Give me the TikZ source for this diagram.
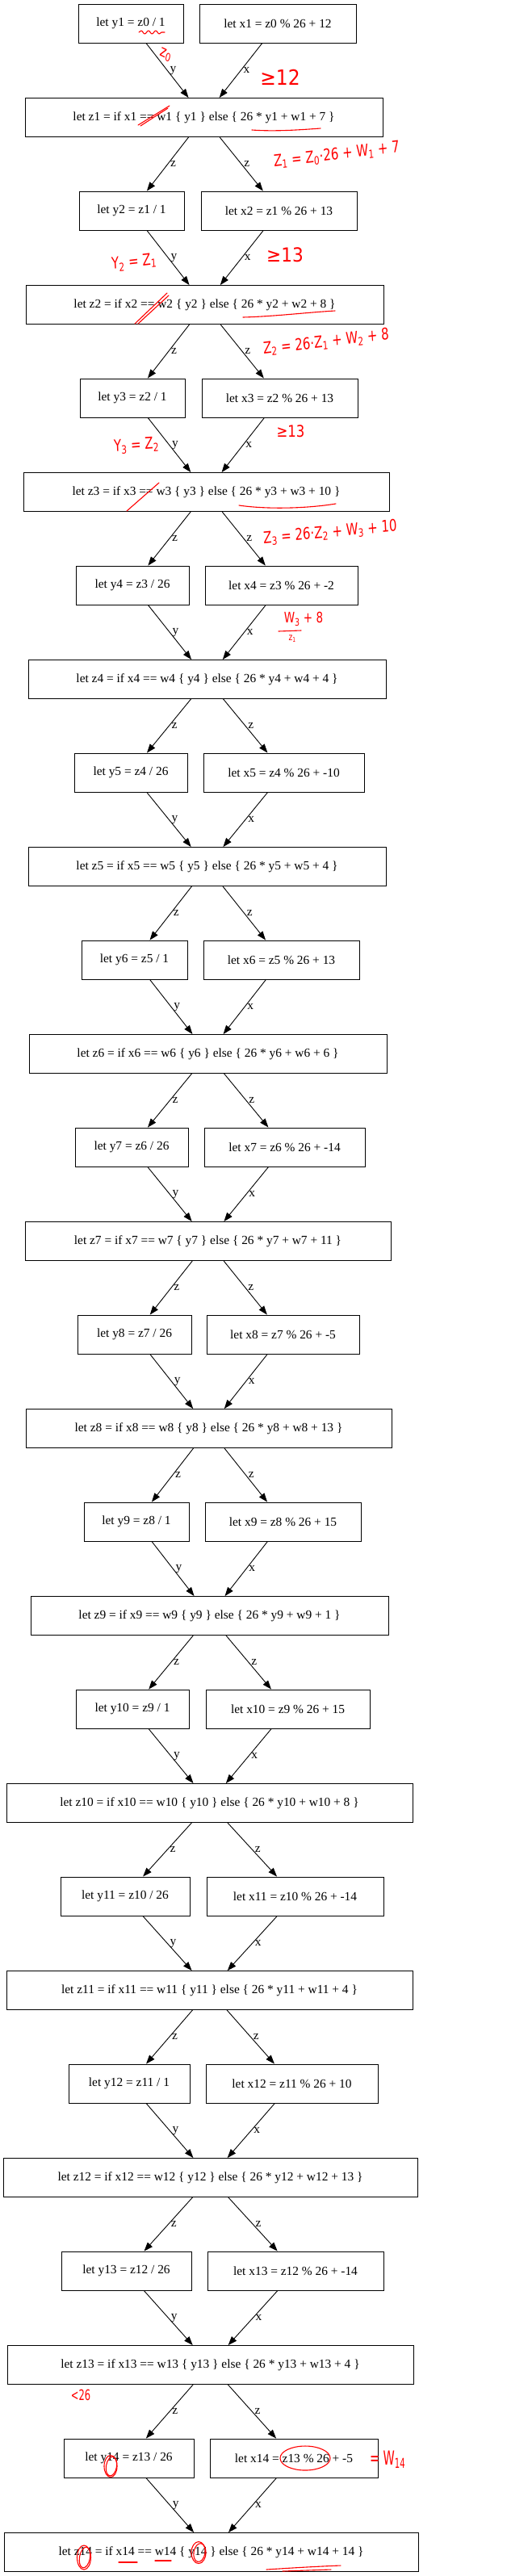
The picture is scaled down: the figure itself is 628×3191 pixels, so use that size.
\documentclass[tikz,border=0pt]{standalone}
\usepackage{fontspec}
\setmainfont{Liberation Serif}
\newfontfamily\handfont{DejaVu Sans}
\usetikzlibrary{arrows.meta, decorations.pathmorphing}
\newcommand{\hf}[1]{\handfont\fontsize{#1}{#1}\selectfont}

\begin{document}
\begin{tikzpicture}[x=1pt, y=1pt,
    box/.style={draw, line width=0.9pt, minimum height=48pt, inner sep=0pt, font=\fontsize{15.4}{18}\selectfont},
    arr/.style={line width=0.9pt, -{Triangle[length=11pt, width=8pt]}},
    lbl/.style={right, inner sep=3pt, font=\fontsize{15.4}{18}\selectfont},
    ink/.style={red, line width=1.1pt, line cap=round, line join=round},
    inktext/.style={red, inner sep=0pt, xscale=0.75, font=\hf{20}}]

    % Hintergrund
    \path[fill=white] (0,0) rectangle (628,-3191);

    % Stufen: y, x und z
    \foreach \i/\yl/\yr/\xl/\xr/\zl/\zr/\dv/\off/\cst in {
        1/97/227/247/441/31/474/1/12/7,
        2/98/228/249/442/32/475/1/13/8,
        3/99/229/250/443/29/482/1/13/10,
        4/94/234/254/443/35/478/26/-2/4,
        5/92/232/252/451/35/478/26/-10/4,
        6/101/232/252/445/36/479/1/13/6,
        7/93/233/253/452/31/484/26/-14/11,
        8/96/237/256/445/32/485/26/-5/13,
        9/104/234/254/447/38/481/1/15/1,
        10/94/234/255/458/8/511/1/15/8,
        11/75/235/256/475/8/511/26/-14/4,
        12/85/235/255/468/4/517/1/10/13,
        13/76/237/257/475/9/512/26/-14/4,
        14/79/240/260/468/5/518/26/-5/14} {
        \pgfmathtruncatemacro\prev{\i-1}
        \pgfmathsetmacro\ty{-(29+232*(\i-1))}
        \pgfmathsetmacro\tz{-(145.5+232*(\i-1))}
        \pgfmathsetmacro\yw{\yr-\yl}
        \pgfmathsetmacro\xw{\xr-\xl}
        \pgfmathsetmacro\zw{\zr-\zl}
        \node[box, minimum width=\yw pt] (y\i) at ({(\yl+\yr)/2}, \ty) {let y\i{} = z\prev{} / \dv};
        \node[box, minimum width=\xw pt] (x\i) at ({(\xl+\xr)/2}, \ty) {let x\i{} = z\prev{} \% 26 + \off};
        \node[box, minimum width=\zw pt] (z\i) at ({(\zl+\zr)/2}, \tz)
            {let z\i{} = if x\i{} == w\i{} \{ y\i{} \} else \{ 26 * y\i{} + w\i{} + \cst{} \}};
        \draw[arr] (y\i) -- node[lbl] {y} (z\i);
        \draw[arr] (x\i) -- node[lbl] {x} (z\i);
        \ifnum\i>1
            \draw[arr] (z\prev) -- node[lbl] {z} (y\i);
            \draw[arr] (z\prev) -- node[lbl] {z} (x\i);
        \fi
    }

    % Notizen Stufe 1
    \draw[ink, decorate, decoration={snake, amplitude=2pt, segment length=9pt}] (172,-40) -- (204,-40);
    \node[inktext, rotate=-20] (n0) at (205,-68) {z\textsubscript{0}};
    \node[inktext, font=\hf{26}, xscale=1.2] (n1) at (347,-96) {≥12};
    \draw[ink] (171,-155) -- (210,-131);
    \draw[ink] (174,-156) -- (208,-134);
    \draw[ink] (312,-161) .. controls (340,-163) and (370,-161) .. (397,-159);
    \node[inktext, rotate=5] (n2) at (417,-192)
        {Z\textsubscript{1} = Z\textsubscript{0}·26 + W\textsubscript{1} + 7};

    % Notizen Stufe 2
    \node[inktext, rotate=5] (n3) at (166,-325) {Y\textsubscript{2} = Z\textsubscript{1}};
    \node[inktext, font=\hf{24}, xscale=1.2] (n4) at (353,-316) {≥13};
    \draw[ink] (167,-401) -- (207,-363);
    \draw[ink] (171,-401) -- (209,-366);
    \draw[ink] (301,-393) .. controls (340,-392) and (380,-387) .. (415,-385);
    \node[inktext, rotate=5] (n5) at (404,-424)
        {Z\textsubscript{2} = 26·Z\textsubscript{1} + W\textsubscript{2} + 8};

    % Notizen Stufe 3
    \node[inktext, rotate=3] (n6) at (169,-552) {Y\textsubscript{3} = Z\textsubscript{2}};
    \node[inktext, font=\hf{20}, xscale=1.1] (n7) at (360,-534) {≥13};
    \draw[ink] (157,-633) -- (197,-598);
    \draw[ink] (296,-626) .. controls (330,-631) and (380,-630) .. (416,-624);
    \node[inktext, rotate=4] (n8) at (409,-660)
        {Z\textsubscript{3} = 26·Z\textsubscript{2} + W\textsubscript{3} + 10};

    % Notizen Stufe 4
    \node[inktext, font=\hf{18}] (n9) at (376,-767) {W\textsubscript{3} + 8};
    \draw[ink] (345,-782) -- (373,-781);
    \node[inktext, font=\hf{12}] (n10) at (362,-791) {z\textsubscript{1}};

    % Notizen Stufe 13 und 14
    \node[inktext, font=\hf{18}, xscale=0.85] (n11) at (100,-2967) {<26};
    \draw[ink] (137,-3055) ellipse [x radius=8, y radius=13.5];
    \draw[ink, rotate around={-10:(138,-3055)}] (138,-3055) ellipse [x radius=6.5, y radius=12];
    \draw[ink] (378,-3045) ellipse [x radius=31, y radius=15];
    \node[inktext, font=\hf{24}, xscale=0.8] (n12) at (480,-3047) {= W\textsubscript{14}};
    \draw[ink] (104,-3168) ellipse [x radius=8.5, y radius=15];
    \draw[ink, rotate around={-10:(105,-3168)}] (105,-3168) ellipse [x radius=6.5, y radius=13];
    \draw[ink] (246,-3162) ellipse [x radius=9, y radius=13.5];
    \draw[ink, rotate around={-10:(247,-3162)}] (247,-3162) ellipse [x radius=7, y radius=11.5];
    \draw[ink] (147,-3174) -- (170,-3174);
    \draw[ink] (192,-3172) -- (212,-3172);
    \draw[ink] (330,-3183) .. controls (360,-3181) and (395,-3179) .. (422,-3178);
    \draw[ink] (350,-3185) -- (410,-3183);
\end{tikzpicture}
\end{document}
